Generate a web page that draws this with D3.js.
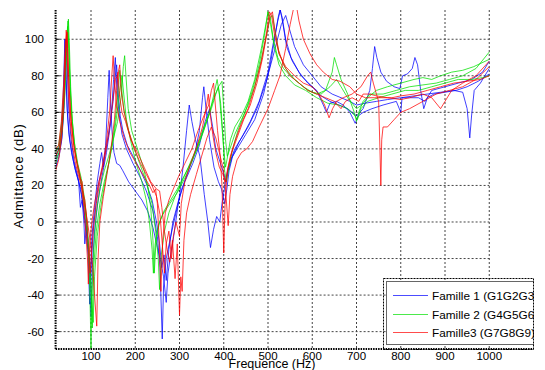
<!DOCTYPE html>
<html>
<head>
<meta charset="utf-8">
<script src="https://cdn.jsdelivr.net/npm/d3@7"></script>
<style>
body { margin: 0; background: #fff; }
text { font-family: "Liberation Sans", Arial, sans-serif; fill: #000; }
</style>
</head>
<body>
<div id="chart"></div>
<script>
// tick values
var freqTicks = [100, 200, 300, 400, 500, 600, 700, 800, 900, 1000];
var dbTicks = [-60, -40, -20, 0, 20, 40, 60, 80, 100];

// legend
var familyNames = ["Famille 1 (G1G2G3)", "Famille 2 (G4G5G6)", "Famille3 (G7G8G9)"];
var familyColors = ["#0000ff", "#00e000", "#ff0000"];

// Famille 1 curves [Hz, dB]
var blue1 = [[20,34],[28,38],[34,46],[38,62],[40,80],[42,100],[44,78],[47,58],[52,45],[58,36],[65,28],[72,22],[76,8],[80,12],[84,0],[86,-12],[90,-2],[95,-15],[99,-30],[102,-8],[108,8],[114,22],[120,32],[124,38],[128,30],[133,42],[138,68],[141,83],[144,64],[148,48],[152,38],[158,32],[165,31],[172,28],[185,22],[200,17],[215,12],[228,6],[240,-3],[250,-14],[258,-22],[264,-30],[270,-44],[274,-28],[280,-18],[288,-6],[296,8],[301,16],[308,30],[316,50],[322,64],[328,55],[336,45],[346,36],[356,15],[364,0],[370,-14],[377,-4],[384,3],[391,0],[396,10],[400,16],[406,25],[414,33],[425,40],[440,46],[460,55],[480,66],[500,82],[512,98],[522,110],[528,116],[534,108],[542,96],[555,88],[575,80],[600,74],[620,69],[640,66],[660,64],[680,62],[700,58],[715,62],[730,72],[736,84],[741,96],[746,90],[755,82],[768,77],[785,74],[798,73],[804,80],[815,81],[826,84],[832,90],[838,86],[845,72],[852,62],[860,68],[875,70],[900,71],[925,72],[950,74],[975,77],[1000,81]];
var blue2 = [[20,30],[28,36],[34,45],[39,62],[43,85],[45,97],[47,80],[50,60],[55,45],[62,33],[70,25],[78,15],[84,5],[90,-8],[95,-20],[98,-40],[100,-52],[103,-25],[108,-5],[115,10],[125,25],[135,38],[145,55],[151,78],[155,90],[158,75],[163,60],[170,48],[180,40],[195,32],[210,25],[225,17],[240,6],[250,-8],[256,-25],[261,-64],[264,-35],[270,-20],[280,-8],[292,5],[305,18],[320,28],[335,38],[345,50],[352,68],[355,74],[360,62],[368,45],[378,30],[388,22],[395,18],[402,10],[407,18],[412,28],[420,36],[435,44],[455,52],[475,62],[495,76],[515,94],[530,108],[540,113],[548,106],[560,96],[580,86],[600,80],[620,74],[645,70],[665,68],[685,66],[700,64],[720,65],[745,66],[770,67],[800,68],[830,69],[860,70],[890,71],[920,72],[940,71],[950,62],[956,46],[960,58],[966,72],[980,76],[1000,84]];
var blue3 = [[20,36],[27,40],[33,50],[37,68],[40,92],[41,100],[43,82],[46,62],[50,48],[56,38],[63,30],[70,24],[77,18],[82,10],[88,0],[93,-15],[97,-45],[100,-25],[105,-5],[112,12],[118,22],[126,30],[134,40],[142,52],[150,66],[155,80],[158,86],[161,72],[166,58],[172,50],[182,42],[195,36],[210,29],[225,21],[238,12],[248,0],[255,-12],[260,-25],[265,-18],[270,-32],[276,-15],[285,0],[298,12],[312,22],[330,32],[345,42],[358,55],[368,62],[375,52],[382,40],[390,34],[398,28],[405,22],[410,28],[418,35],[430,40],[450,48],[470,56],[490,70],[505,86],[515,100],[523,112],[527,116],[532,112],[540,100],[552,90],[570,82],[590,76],[610,72],[625,64],[632,60],[640,65],[655,66],[670,64],[685,60],[697,54],[704,58],[715,60],[735,62],[760,64],[790,66],[800,60],[803,68],[820,68],[840,68],[855,66],[870,72],[900,74],[930,76],[960,78],[985,82],[1000,88]];

// Famille 2 curves
var green1 = [[20,32],[28,38],[35,50],[41,70],[45,92],[48,110],[50,95],[53,72],[57,55],[63,40],[70,30],[78,22],[85,10],[90,0],[95,-20],[98,-45],[100,-70],[102,-40],[106,-15],[112,5],[120,18],[130,28],[140,36],[150,45],[160,55],[168,68],[173,85],[176,91],[179,80],[184,62],[192,50],[205,40],[218,30],[228,20],[235,8],[240,-10],[243,-28],[247,-10],[255,0],[265,6],[280,12],[295,18],[310,25],[325,32],[340,40],[355,50],[368,60],[378,70],[385,78],[390,70],[395,55],[400,40],[404,30],[408,35],[415,45],[425,52],[440,58],[455,66],[470,78],[485,95],[495,108],[500,115],[505,112],[512,100],[522,90],[535,84],[550,80],[570,76],[590,72],[610,70],[630,72],[645,82],[650,90],[655,86],[665,78],[680,70],[695,60],[700,55],[705,60],[715,66],[730,70],[760,70],[790,72],[820,74],[850,75],[880,76],[910,78],[940,80],[970,84],[1000,93]];
var green2 = [[20,38],[27,42],[34,55],[40,75],[44,95],[47,107],[49,100],[52,80],[56,60],[62,44],[70,32],[78,24],[86,12],[92,-2],[97,-25],[101,-40],[105,-55],[108,-30],[114,-8],[122,8],[132,22],[142,34],[152,50],[160,68],[165,83],[168,76],[174,62],[182,52],[195,42],[210,32],[225,22],[238,10],[246,-5],[252,-20],[255,-37],[259,-18],[266,-5],[276,5],[290,14],[305,22],[320,30],[338,40],[352,50],[365,58],[378,68],[388,74],[396,77],[400,62],[404,45],[408,36],[414,40],[425,48],[440,56],[455,64],[470,74],[482,86],[495,100],[505,112],[510,113],[516,104],[525,92],[540,84],[560,78],[580,74],[600,71],[620,70],[640,74],[655,78],[665,74],[680,68],[700,62],[712,64],[725,68],[745,72],[770,74],[800,76],[830,78],[850,79],[870,78],[890,80],[915,82],[940,83],[965,85],[1000,89]];
var green3 = [[20,35],[28,40],[35,52],[40,72],[45,96],[49,111],[51,98],[54,74],[58,55],[65,38],[72,28],[80,18],[87,6],[93,-10],[99,-30],[103,-58],[106,-25],[112,-5],[120,10],[130,22],[140,32],[150,44],[158,58],[165,72],[170,80],[174,70],[180,56],[190,44],[202,32],[215,22],[225,12],[232,0],[238,-15],[241,-28],[245,-12],[252,-2],[262,4],[278,10],[295,16],[312,24],[330,34],[345,44],[360,54],[372,62],[382,70],[388,74],[393,65],[398,48],[402,28],[406,22],[412,30],[420,40],[432,50],[448,60],[465,72],[480,86],[492,102],[500,115],[506,108],[514,96],[525,86],[540,80],[560,75],[585,72],[610,68],[635,65],[660,64],[680,62],[697,58],[702,56],[710,62],[725,66],[750,68],[780,70],[810,72],[840,72],[870,74],[900,76],[930,78],[960,78],[985,79],[1000,80]];

// Famille 3 curves
var red1 = [[20,28],[27,34],[33,45],[38,62],[42,85],[44,105],[46,92],[49,70],[53,55],[58,42],[65,32],[72,25],[78,20],[84,8],[88,-5],[92,-20],[94,-34],[97,-12],[102,0],[108,10],[116,20],[125,30],[134,42],[142,60],[147,80],[150,91],[153,78],[158,64],[165,55],[175,46],[188,38],[200,33],[212,28],[222,24],[232,20],[240,16],[246,18],[250,10],[254,-10],[258,-38],[262,-10],[268,5],[276,12],[286,18],[298,25],[312,32],[328,40],[342,50],[355,58],[366,64],[372,72],[377,76],[381,64],[386,50],[392,36],[396,20],[400,-17],[403,10],[408,28],[415,36],[425,44],[440,54],[455,62],[470,74],[485,88],[497,104],[503,115],[508,113],[515,102],[525,92],[540,85],[560,80],[580,76],[600,74],[615,70],[628,64],[638,57],[646,62],[655,66],[670,68],[690,70],[710,74],[725,80],[732,82],[738,76],[745,70],[750,66],[753,40],[755,20],[757,45],[760,52],[770,52],[785,56],[800,60],[820,62],[850,66],[880,70],[910,72],[940,74],[970,78],[1000,85]];
var red2 = [[20,36],[28,40],[34,50],[39,70],[43,95],[46,104],[48,90],[51,72],[55,56],[61,42],[68,32],[75,24],[80,22],[83,14],[87,8],[92,0],[98,-10],[104,-25],[108,-40],[113,-57],[116,-20],[120,0],[128,14],[136,26],[145,40],[153,56],[158,72],[161,82],[164,70],[170,60],[178,55],[190,45],[205,38],[220,30],[235,22],[248,18],[255,17],[260,8],[266,-5],[272,-15],[278,-22],[284,-10],[290,-31],[295,-12],[300,-51],[303,-30],[306,-38],[310,-10],[316,5],[325,15],[338,26],[350,36],[362,46],[372,52],[382,46],[390,38],[398,30],[404,18],[410,-2],[414,15],[420,25],[430,34],[440,38],[452,40],[465,44],[480,52],[500,62],[515,72],[527,80],[540,95],[550,108],[557,116],[563,120],[570,110],[580,100],[595,92],[610,86],[625,82],[645,78],[663,77],[685,74],[700,70],[720,68],[740,68],[760,68],[780,68],[800,69],[830,70],[860,72],[890,74],[920,76],[950,77],[980,78],[1000,80]];
var red3 = [[20,40],[27,42],[33,55],[38,75],[42,98],[45,103],[47,95],[50,76],[54,58],[60,44],[67,34],[74,27],[80,18],[86,12],[90,2],[94,-15],[98,-28],[101,-18],[106,-2],[112,10],[120,22],[130,34],[140,48],[148,64],[155,78],[160,80],[165,86],[168,72],[175,60],[185,50],[198,40],[212,32],[225,26],[238,20],[248,14],[256,4],[262,-15],[266,-28],[270,-12],[276,-5],[282,-20],[286,-8],[292,0],[300,-8],[304,10],[312,22],[325,32],[340,42],[352,52],[360,62],[365,70],[369,60],[375,48],[382,38],[390,30],[398,26],[404,22],[410,30],[418,38],[430,46],[445,56],[460,64],[475,76],[488,90],[498,104],[505,113],[510,115],[515,106],[524,94],[535,86],[550,80],[570,76],[590,72],[610,70],[630,68],[650,66],[665,62],[675,66],[690,68],[705,66],[715,70],[730,70],[745,69],[770,68],[800,67],[820,68],[850,70],[870,68],[890,62],[900,66],[915,72],[940,76],[970,80],[1000,88]];

var curves = [
	{fam: 0, pts: blue1}, {fam: 0, pts: blue2}, {fam: 0, pts: blue3},
	{fam: 1, pts: green1}, {fam: 1, pts: green2}, {fam: 1, pts: green3},
	{fam: 2, pts: red1}, {fam: 2, pts: red2}, {fam: 2, pts: red3}
];

var width = 545;
var height = 370;
var plotLeft = 55.6, plotRight = 533.5, plotTop = 10, plotBottom = 349;

var x = d3.scaleLinear().domain([20, 1100]).range([plotLeft, plotRight]);
var y = d3.scaleLinear().domain([-69.5, 116]).range([plotBottom, plotTop]);

var svg = d3.select('#chart')
		.append('svg')
				.attr('width', width)
				.attr('height', height);

svg.append('clipPath').attr('id', 'plotclip')
		.append('rect')
				.attr('x', plotLeft).attr('y', plotTop)
				.attr('width', plotRight - plotLeft).attr('height', plotBottom - plotTop);

// grid
svg.selectAll('.vgrid')
		.data(freqTicks)
		.enter()
				.append('line')
				.attr('x1', function(d) { return x(d); })
				.attr('x2', function(d) { return x(d); })
				.attr('y1', plotTop)
				.attr('y2', plotBottom)
				.style('stroke', '#444')
				.style('stroke-dasharray', '2,2');

svg.selectAll('.hgrid')
		.data(dbTicks)
		.enter()
				.append('line')
				.attr('x1', plotLeft)
				.attr('x2', x(1000))
				.attr('y1', function(d) { return y(d); })
				.attr('y2', function(d) { return y(d); })
				.style('stroke', '#444')
				.style('stroke-dasharray', '2,2');

// curves
var line = d3.line()
		.x(function(d) { return x(d[0]); })
		.y(function(d) { return y(d[1]); });

svg.append('g')
		.attr('clip-path', 'url(#plotclip)')
		.selectAll('path')
		.data(curves)
		.enter()
				.append('path')
				.attr('d', function(d) { return line(d.pts); })
				.style('fill', 'none')
				.style('stroke', function(d) { return familyColors[d.fam]; })
				.style('stroke-width', 1)
				.style('stroke-opacity', 0.75);

// axes lines (dotted) and ticks
svg.append('line')
		.attr('x1', plotLeft).attr('x2', plotLeft).attr('y1', plotTop).attr('y2', plotBottom + 1)
		.style('stroke', '#000').style('stroke-width', 2).style('stroke-dasharray', '1.5,1');
svg.append('line')
		.attr('x1', plotLeft).attr('x2', plotRight).attr('y1', plotBottom).attr('y2', plotBottom)
		.style('stroke', '#000').style('stroke-width', 2).style('stroke-dasharray', '1.5,1');

svg.selectAll('.ytick')
		.data(dbTicks)
		.enter()
				.append('line')
				.attr('x1', plotLeft).attr('x2', plotLeft + 4)
				.attr('y1', function(d) { return y(d); })
				.attr('y2', function(d) { return y(d); })
				.style('stroke', '#000');

svg.selectAll('.ylab')
		.data(dbTicks)
		.enter()
				.append('text')
				.attr('x', 44)
				.attr('y', function(d) { return y(d) + 4; })
				.attr('text-anchor', 'end')
				.style('font-size', '11.5px')
				.text(function(d) { return d; });

svg.selectAll('.xlab')
		.data(freqTicks)
		.enter()
				.append('text')
				.attr('x', function(d) { return x(d); })
				.attr('y', 360)
				.attr('text-anchor', 'middle')
				.style('font-size', '11.5px')
				.text(function(d) { return d; });

svg.append('text')
		.attr('x', 272)
		.attr('y', 368)
		.attr('text-anchor', 'middle')
		.style('font-size', '12.5px')
		.text('Frequence (Hz)');

svg.append('text')
		.attr('transform', 'translate(23,176) rotate(-90)')
		.attr('text-anchor', 'middle')
		.style('font-size', '13px')
		.style('letter-spacing', '0.8px')
		.text('Admittance (dB)');

// legend
svg.append('clipPath').attr('id', 'legclip')
		.append('rect')
				.attr('x', 380).attr('y', 270).attr('width', 154).attr('height', 80);

var leg = svg.append('g').attr('clip-path', 'url(#legclip)');

leg.append('rect')
		.attr('x', 386.5).attr('y', 281.5).attr('width', 160).attr('height', 63)
		.style('fill', '#fff')
		.style('stroke', '#666')
		.style('stroke-width', 1);

var legRows = leg.selectAll('.legend')
		.data(familyNames)
		.enter()
				.append('g')
				.attr('class', 'legend')
				.attr('transform', function(d, i) { return 'translate(0,' + (Math.round(295 + i * 18.5) + 0.5) + ')'; });

legRows.append('line')
		.attr('x1', 393).attr('x2', 428).attr('y1', 0).attr('y2', 0)
		.style('stroke', function(d, i) { return familyColors[i]; })
		.style('stroke-opacity', 0.7);

legRows.append('text')
		.attr('x', 432)
		.attr('y', 4.5)
		.style('font-size', '11.8px')
		.text(function(d) { return d; });

svg.append('rect')
		.attr('x', 383.5).attr('y', 278.5).attr('width', 150).attr('height', 71)
		.style('fill', 'none')
		.style('stroke', '#000')
		.style('stroke-dasharray', '2,1');
</script>
</body>
</html>
